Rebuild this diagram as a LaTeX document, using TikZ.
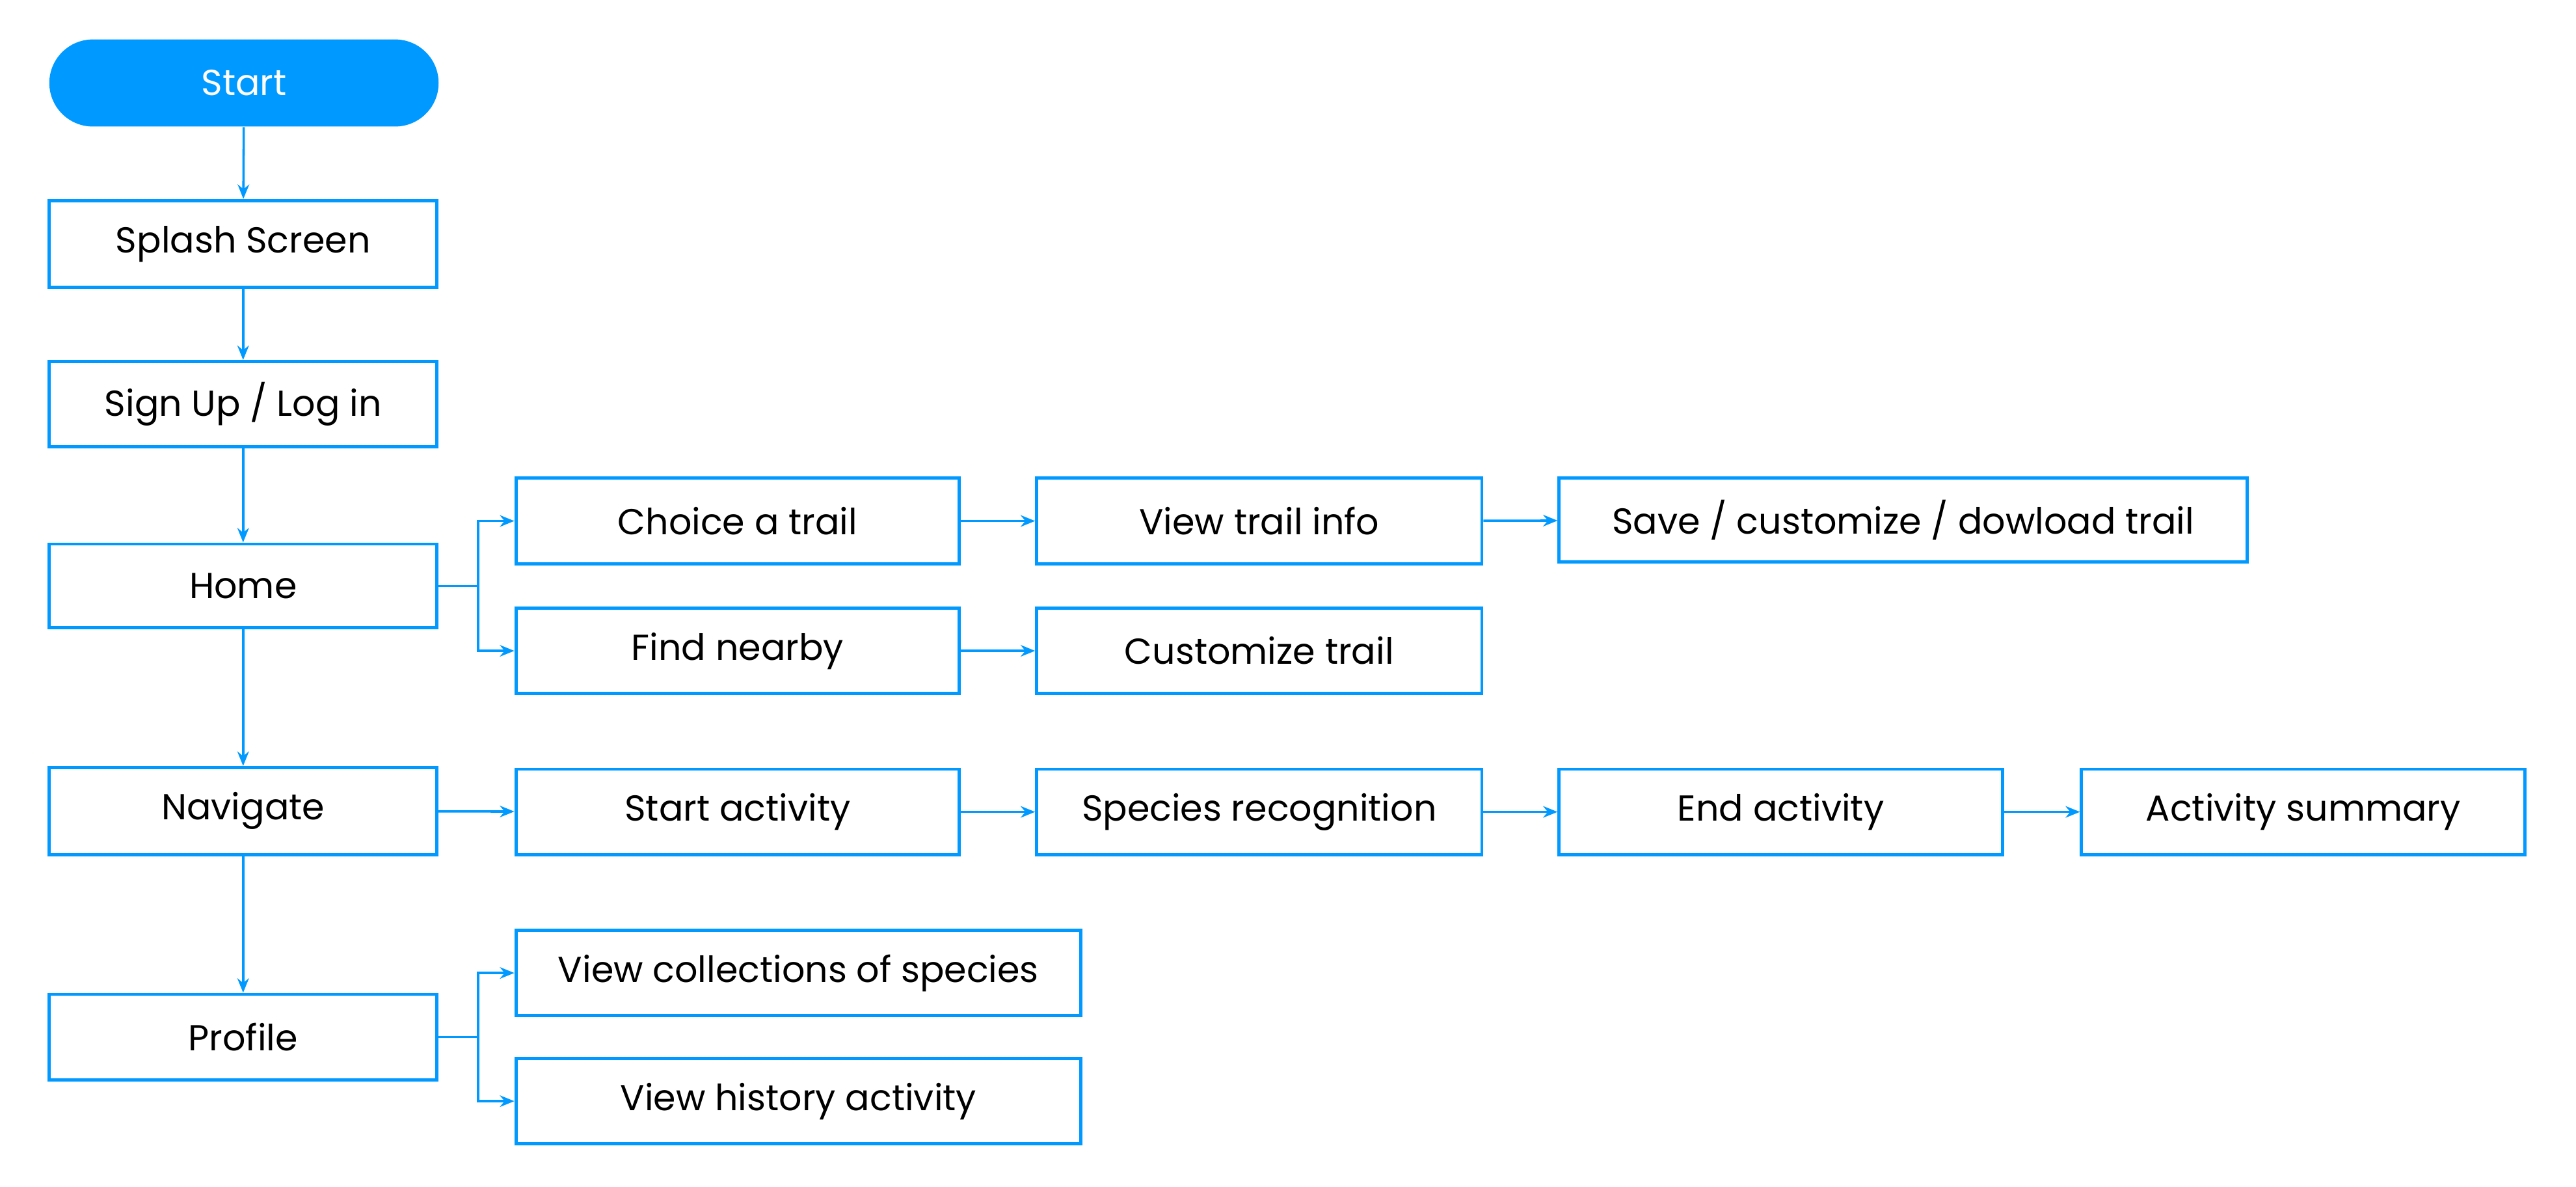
\documentclass[tikz,border=0pt]{standalone}
\usepackage{fontspec}
\setmainfont{Poppins}
\usetikzlibrary{arrows.meta}
\definecolor{bl}{RGB}{0,153,255}
\begin{document}
\begin{tikzpicture}[x=0.02cm,y=-0.02cm,
  box/.style={draw=bl,line width=1.1pt,fill=white,inner sep=0pt,font=\fontsize{12.5}{15}\selectfont},
  ar/.style={draw=bl,line width=0.8pt,-{Stealth[length=5pt,width=4pt]}}]
\useasboundingbox (0,0) rectangle (1568,722);
\newcommand{\bx}[6]{\node[box,#6,minimum width={(#3-#2)*0.02cm},minimum height={(#5-#4)*0.02cm}] (#1) at ({(#2+#3)/2},{(#4+#5)/2}) {#1};}
\node[fill=bl,rounded corners=0.53cm,minimum width=4.74cm,minimum height=1.06cm,text=white,font=\fontsize{12.5}{15}\selectfont] (start) at (148.5,50.5) {Start};
\node[box,minimum width=4.72cm,minimum height=1.06cm] (splash) at (148,148.5) {Splash Screen};
\node[box,minimum width=4.72cm,minimum height=1.04cm] (sign) at (148,246) {Sign Up / Log in};
\node[box,minimum width=4.72cm,minimum height=1.02cm] (home) at (148,356.5) {Home};
\node[box,minimum width=4.72cm,minimum height=1.06cm] (nav) at (148,493.5) {Navigate};
\node[box,minimum width=4.72cm,minimum height=1.04cm] (prof) at (148,631) {Profile};
\node[box,minimum width=5.4cm,minimum height=1.04cm] (choice) at (449,317) {Choice a trail};
\node[box,minimum width=5.4cm,minimum height=1.04cm] (find) at (449,396) {Find nearby};
\node[box,minimum width=5.42cm,minimum height=1.04cm] (view) at (766.5,317) {View trail info};
\node[box,minimum width=5.42cm,minimum height=1.04cm] (cust) at (766.5,396) {Customize trail};
\node[box,minimum width=8.38cm,minimum height=1.02cm] (save) at (1158.5,316.5) {Save / customize / dowload trail};
\node[box,minimum width=5.4cm,minimum height=1.04cm] (sa) at (449,494) {Start activity};
\node[box,minimum width=5.42cm,minimum height=1.04cm] (sr) at (766.5,494) {Species recognition};
\node[box,minimum width=5.4cm,minimum height=1.04cm] (ea) at (1084,494) {End activity};
\node[box,minimum width=5.4cm,minimum height=1.04cm] (as) at (1402,494) {Activity summary};
\node[box,minimum width=6.88cm,minimum height=1.04cm] (vc) at (486,592) {View collections of species};
\node[box,minimum width=6.88cm,minimum height=1.04cm] (vh) at (486,670) {View history activity};
\draw[ar] (start) -- (splash);
\draw[ar] (splash) -- (sign);
\draw[ar] (sign) -- (home);
\draw[ar] (home) -- (nav);
\draw[ar] (nav) -- (prof);
\draw[ar] (home.east) -- ++(24,0) |- (choice.west);
\draw[ar] (home.east) -- ++(24,0) |- (find.west);
\draw[ar] (prof.east) -- ++(24,0) |- (vc.west);
\draw[ar] (prof.east) -- ++(24,0) |- (vh.west);
\draw[ar] (choice) -- (view);
\draw[ar] (view) -- (save);
\draw[ar] (find) -- (cust);
\draw[ar] (nav) -- (sa);
\draw[ar] (sa) -- (sr);
\draw[ar] (sr) -- (ea);
\draw[ar] (ea) -- (as);
\end{tikzpicture}
\end{document}
